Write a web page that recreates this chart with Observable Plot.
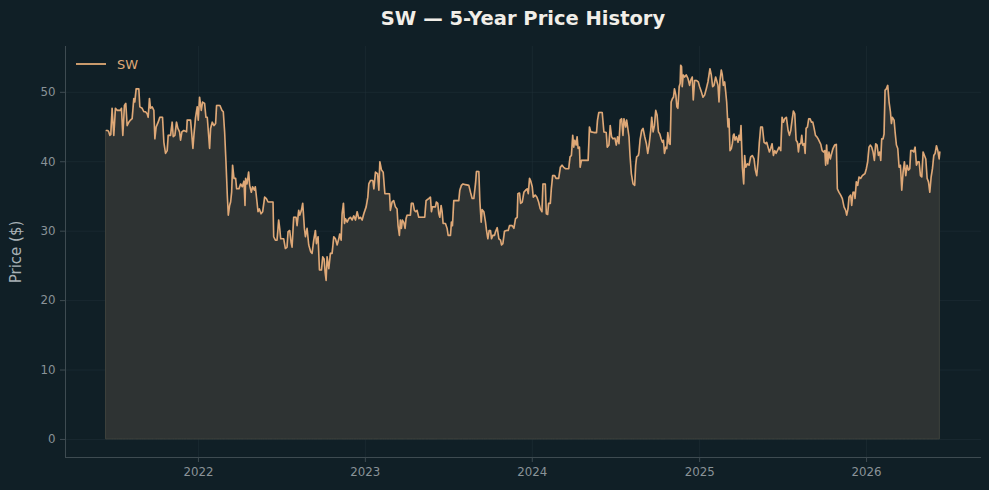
<!DOCTYPE html>
<html><head><meta charset="utf-8">
<script src="https://cdn.jsdelivr.net/npm/d3@7"></script>
<script src="https://cdn.jsdelivr.net/npm/@observablehq/plot@0.6"></script>
<style>
html,body{margin:0;padding:0;background:#101f26;}
#wrap{width:989px;height:490px;position:relative;overflow:hidden;font-family:"DejaVu Sans",sans-serif;background:#101f26;}
#title{position:absolute;left:65px;width:916px;top:0;height:38px;line-height:38px;text-align:center;color:#f1eee8;font-weight:bold;font-size:19.5px;}
#chart{position:absolute;top:38px;left:0;}
</style></head><body>
<div id="wrap"><div id="title">SW — 5-Year Price History</div><div id="chart"></div></div>
<script>
const seriesName = "SW";
const yTicks = [0, 10, 20, 30, 40, 50];
const xTickYears = [2022, 2023, 2024, 2025, 2026];

// [decimal year, price]
const p2021 = [[2021.449,44.5],[2021.457,44.5],[2021.463,44.3],[2021.469,43.8],[2021.475,43.9],[2021.483,47.7],[2021.493,43.8],[2021.503,47.7],[2021.513,47.4],[2021.523,47.4],[2021.533,47.4],[2021.539,47.7],[2021.547,43.8],[2021.557,48.1],[2021.565,48.4],[2021.573,45.2],[2021.583,45.7],[2021.593,46.0],[2021.603,46.2],[2021.613,49.1],[2021.619,48.6],[2021.627,50.5],[2021.643,50.5],[2021.649,47.9],[2021.663,47.7],[2021.673,47.2],[2021.683,47.2],[2021.693,46.9],[2021.699,46.4],[2021.707,49.1],[2021.713,47.7],[2021.723,47.9],[2021.733,47.4],[2021.739,43.3],[2021.747,45.0],[2021.759,45.7],[2021.769,46.4],[2021.785,46.4],[2021.793,42.8],[2021.803,41.2],[2021.813,41.6],[2021.819,43.8],[2021.833,43.8],[2021.843,45.7],[2021.849,43.6],[2021.859,43.8],[2021.869,45.7],[2021.877,44.8],[2021.887,44.3],[2021.893,43.1],[2021.901,44.3],[2021.913,44.5],[2021.929,44.3],[2021.933,46.0],[2021.953,46.0],[2021.959,44.3],[2021.967,41.9],[2021.973,43.8],[2021.983,46.4],[2021.993,47.9],[2021.999,46.0]];
const p2022 = [[2022.007,49.3],[2022.017,47.4],[2022.025,48.6],[2022.037,48.4],[2022.045,46.4],[2022.053,46.4],[2022.059,44.5],[2022.067,41.9],[2022.073,44.8],[2022.083,45.7],[2022.093,45.2],[2022.103,45.5],[2022.109,48.1],[2022.129,48.1],[2022.141,47.4],[2022.149,47.2],[2022.157,44.3],[2022.165,40.0],[2022.173,35.2],[2022.179,32.3],[2022.187,33.7],[2022.193,34.2],[2022.199,35.6],[2022.205,39.5],[2022.213,37.6],[2022.223,37.6],[2022.229,36.1],[2022.243,36.1],[2022.253,36.8],[2022.263,36.4],[2022.273,37.2],[2022.279,33.7],[2022.283,37.6],[2022.291,36.8],[2022.301,38.5],[2022.307,36.6],[2022.317,35.6],[2022.325,36.4],[2022.335,35.9],[2022.341,36.4],[2022.351,34.2],[2022.357,32.8],[2022.365,33.2],[2022.375,32.5],[2022.385,32.8],[2022.397,34.9],[2022.407,34.7],[2022.417,34.2],[2022.431,34.2],[2022.447,34.2],[2022.451,29.2],[2022.461,28.7],[2022.471,28.7],[2022.481,31.6],[2022.487,30.4],[2022.493,28.9],[2022.511,28.9],[2022.521,27.5],[2022.531,27.7],[2022.537,29.9],[2022.547,30.1],[2022.555,28.4],[2022.561,27.7],[2022.571,32.0],[2022.585,32.0],[2022.591,30.8],[2022.601,33.0],[2022.607,32.3],[2022.617,33.0],[2022.625,34.0],[2022.635,30.4],[2022.641,29.2],[2022.651,30.4],[2022.661,28.0],[2022.673,27.0],[2022.681,26.8],[2022.691,28.7],[2022.701,30.1],[2022.707,28.2],[2022.717,29.2],[2022.725,24.4],[2022.737,24.4],[2022.745,26.3],[2022.753,26.0],[2022.759,24.1],[2022.765,22.9],[2022.771,26.3],[2022.781,24.6],[2022.791,26.8],[2022.801,26.8],[2022.811,29.2],[2022.821,28.9],[2022.831,28.0],[2022.841,28.9],[2022.847,29.6],[2022.855,28.7],[2022.861,32.5],[2022.869,34.0],[2022.875,31.1],[2022.881,31.8],[2022.891,31.3],[2022.901,31.8],[2022.911,32.0],[2022.921,31.6],[2022.931,32.2],[2022.941,31.6],[2022.951,32.8],[2022.961,31.8],[2022.971,32.0],[2022.981,31.6],[2022.991,32.5]];
const p2023 = [[2023.005,33.5],[2023.015,34.9],[2023.021,36.8],[2023.031,37.3],[2023.045,37.3],[2023.051,36.1],[2023.061,38.5],[2023.073,38.3],[2023.081,35.9],[2023.087,40.0],[2023.097,38.8],[2023.107,38.5],[2023.117,35.4],[2023.131,35.4],[2023.145,35.4],[2023.150,33.0],[2023.160,34.2],[2023.170,34.4],[2023.180,33.5],[2023.190,33.2],[2023.196,30.8],[2023.204,29.4],[2023.210,31.6],[2023.216,30.4],[2023.222,31.6],[2023.230,31.3],[2023.238,30.4],[2023.244,31.8],[2023.250,32.3],[2023.270,32.3],[2023.276,34.0],[2023.286,34.0],[2023.294,33.0],[2023.302,32.8],[2023.310,33.0],[2023.320,32.0],[2023.340,32.0],[2023.356,32.0],[2023.364,34.4],[2023.380,34.7],[2023.390,34.9],[2023.396,32.8],[2023.402,33.5],[2023.420,33.5],[2023.426,34.2],[2023.434,34.0],[2023.440,32.5],[2023.446,32.0],[2023.454,33.7],[2023.460,32.8],[2023.466,31.1],[2023.480,31.1],[2023.490,30.4],[2023.496,29.4],[2023.510,29.4],[2023.516,31.3],[2023.522,30.8],[2023.530,34.4],[2023.560,34.4],[2023.566,35.9],[2023.576,36.6],[2023.584,36.8],[2023.600,36.7],[2023.620,36.6],[2023.630,35.6],[2023.640,34.7],[2023.650,34.7],[2023.660,36.8],[2023.666,38.6],[2023.680,38.6],[2023.686,34.4],[2023.694,31.3],[2023.700,33.1],[2023.710,32.8],[2023.720,31.3],[2023.726,30.1],[2023.734,28.9],[2023.742,30.1],[2023.750,30.1],[2023.756,28.9],[2023.764,29.4],[2023.774,29.4],[2023.780,29.9],[2023.790,30.5],[2023.800,28.9],[2023.810,28.7],[2023.816,28.0],[2023.824,28.2],[2023.834,30.0],[2023.846,30.1],[2023.856,30.1],[2023.864,30.8],[2023.880,30.8],[2023.890,30.4],[2023.900,31.8],[2023.910,32.0],[2023.914,35.4],[2023.924,35.5],[2023.930,34.0],[2023.940,34.2],[2023.950,35.6],[2023.960,35.9],[2023.970,36.1],[2023.976,35.4],[2023.984,37.6],[2023.990,37.3]];
const p2024 = [[2024.000,36.4],[2024.006,34.9],[2024.018,35.2],[2024.028,34.9],[2024.038,34.2],[2024.048,33.2],[2024.058,32.8],[2024.064,36.8],[2024.078,36.8],[2024.084,32.5],[2024.092,32.4],[2024.098,34.0],[2024.108,34.0],[2024.114,36.1],[2024.122,38.0],[2024.134,38.0],[2024.142,37.6],[2024.158,37.6],[2024.168,39.2],[2024.178,39.5],[2024.188,39.2],[2024.198,39.0],[2024.218,39.0],[2024.226,40.7],[2024.234,40.9],[2024.242,43.8],[2024.248,42.1],[2024.254,43.1],[2024.262,42.4],[2024.268,43.6],[2024.274,41.9],[2024.282,42.1],[2024.286,39.2],[2024.294,40.2],[2024.314,40.2],[2024.334,40.2],[2024.342,45.0],[2024.350,44.3],[2024.368,44.2],[2024.384,44.2],[2024.390,46.0],[2024.398,47.1],[2024.418,47.1],[2024.428,44.3],[2024.442,44.2],[2024.448,42.1],[2024.458,42.4],[2024.466,45.2],[2024.474,43.6],[2024.482,43.3],[2024.494,43.4],[2024.502,42.4],[2024.510,43.6],[2024.518,42.6],[2024.526,46.0],[2024.534,46.2],[2024.542,43.8],[2024.548,46.2],[2024.558,45.0],[2024.564,46.0],[2024.570,45.0],[2024.578,43.6],[2024.584,40.9],[2024.592,38.3],[2024.602,36.8],[2024.612,36.6],[2024.618,39.5],[2024.624,40.7],[2024.634,40.9],[2024.638,41.4],[2024.644,43.1],[2024.654,44.5],[2024.662,44.8],[2024.672,43.6],[2024.682,42.6],[2024.690,41.2],[2024.698,42.4],[2024.708,44.5],[2024.714,46.4],[2024.722,44.3],[2024.730,45.2],[2024.738,47.4],[2024.746,46.7],[2024.754,44.3],[2024.762,44.0],[2024.770,43.3],[2024.778,42.8],[2024.784,43.1],[2024.790,41.2],[2024.798,42.1],[2024.804,41.9],[2024.810,44.2],[2024.818,42.6],[2024.824,42.5],[2024.830,48.6],[2024.838,49.1],[2024.844,49.3],[2024.850,50.5],[2024.858,49.6],[2024.864,47.9],[2024.870,47.7],[2024.878,50.8],[2024.884,51.3],[2024.887,53.9],[2024.892,53.7],[2024.896,50.8],[2024.902,52.5],[2024.910,52.2],[2024.920,52.5],[2024.930,52.0],[2024.940,51.0],[2024.946,51.7],[2024.956,52.2],[2024.962,48.9],[2024.970,51.7],[2024.982,51.7],[2024.992,51.5]];
const p2025 = [[2025.000,50.8],[2025.010,50.1],[2025.020,49.3],[2025.030,49.6],[2025.040,50.5],[2025.050,51.5],[2025.062,53.4],[2025.070,52.5],[2025.078,50.8],[2025.086,51.0],[2025.096,52.2],[2025.102,51.7],[2025.110,51.0],[2025.116,48.6],[2025.122,51.7],[2025.130,53.2],[2025.136,52.5],[2025.142,51.0],[2025.150,51.5],[2025.156,50.1],[2025.162,48.6],[2025.170,45.0],[2025.176,46.2],[2025.182,41.6],[2025.190,41.9],[2025.196,42.6],[2025.202,43.8],[2025.206,44.0],[2025.212,43.1],[2025.220,43.6],[2025.230,42.8],[2025.236,43.8],[2025.242,43.1],[2025.248,45.2],[2025.256,39.2],[2025.264,36.8],[2025.270,40.9],[2025.276,39.2],[2025.286,39.7],[2025.296,39.5],[2025.306,40.7],[2025.316,40.9],[2025.326,40.4],[2025.334,38.8],[2025.342,38.0],[2025.350,40.0],[2025.358,42.8],[2025.366,45.0],[2025.376,45.0],[2025.386,42.8],[2025.396,42.6],[2025.402,42.8],[2025.410,42.1],[2025.418,41.4],[2025.426,41.9],[2025.434,42.6],[2025.442,40.9],[2025.450,41.6],[2025.458,41.2],[2025.466,41.6],[2025.476,42.1],[2025.486,41.6],[2025.494,46.4],[2025.502,45.7],[2025.510,46.2],[2025.520,46.4],[2025.530,44.5],[2025.538,43.8],[2025.546,44.5],[2025.554,46.0],[2025.562,47.3],[2025.570,46.9],[2025.578,43.1],[2025.586,42.8],[2025.592,41.4],[2025.598,42.6],[2025.606,42.6],[2025.612,43.8],[2025.618,42.4],[2025.626,42.6],[2025.632,41.2],[2025.638,44.8],[2025.646,45.0],[2025.654,46.2],[2025.662,46.2],[2025.670,45.7],[2025.678,45.7],[2025.686,44.8],[2025.694,43.8],[2025.702,43.6],[2025.710,43.3],[2025.720,42.8],[2025.726,42.5],[2025.734,41.6],[2025.742,41.4],[2025.750,41.6],[2025.755,39.5],[2025.761,42.4],[2025.767,39.7],[2025.775,41.4],[2025.783,40.4],[2025.791,41.2],[2025.799,41.9],[2025.809,42.4],[2025.819,42.5],[2025.825,36.1],[2025.835,35.6],[2025.845,35.2],[2025.855,34.7],[2025.865,33.5],[2025.875,33.0],[2025.881,32.3],[2025.889,33.2],[2025.895,34.9],[2025.905,35.2],[2025.911,33.7],[2025.919,35.6],[2025.927,35.6],[2025.931,34.7],[2025.939,37.1],[2025.947,36.6],[2025.955,37.8],[2025.965,37.6],[2025.975,38.0],[2025.991,38.3],[2025.999,39.0]];
const p2026 = [[2026.007,40.0],[2026.015,42.1],[2026.023,42.4],[2026.031,42.1],[2026.039,41.4],[2026.047,40.2],[2026.055,42.6],[2026.063,42.4],[2026.071,40.9],[2026.079,41.4],[2026.085,40.2],[2026.091,43.3],[2026.099,43.3],[2026.105,44.0],[2026.111,50.3],[2026.119,50.5],[2026.127,51.0],[2026.135,48.6],[2026.143,47.2],[2026.149,45.5],[2026.155,46.4],[2026.165,46.0],[2026.171,44.3],[2026.179,42.4],[2026.187,41.9],[2026.195,39.2],[2026.203,39.5],[2026.211,35.9],[2026.219,38.5],[2026.227,40.0],[2026.235,38.0],[2026.243,39.5],[2026.251,38.8],[2026.259,39.0],[2026.265,41.6],[2026.275,41.6],[2026.283,41.4],[2026.291,42.1],[2026.299,39.5],[2026.307,40.0],[2026.315,40.0],[2026.323,38.0],[2026.331,37.8],[2026.339,41.4],[2026.347,40.9],[2026.355,40.4],[2026.363,37.6],[2026.371,37.1],[2026.379,35.6],[2026.387,37.8],[2026.395,39.0],[2026.403,40.9],[2026.411,41.2],[2026.419,42.3],[2026.427,41.6],[2026.435,40.4],[2026.439,41.4]];

const toDate = y => {
  const yr = Math.floor(y);
  const a = Date.UTC(yr, 0, 1), b = Date.UTC(yr + 1, 0, 1);
  return new Date(a + (y - yr) * (b - a));
};
const data = [...p2021, ...p2022, ...p2023, ...p2024, ...p2025, ...p2026]
  .map(([t, p]) => ({date: toDate(t), price: p}));

const xDomain = [toDate(2021.2036), toDate(2026.6886)];
const yDomain = [-2.6, 56.6];
const xTicks = xTickYears.map(y => new Date(Date.UTC(y, 0, 1)));

const lineColor = "#dfa877";
const axisColor = "#3e4b51";
const tickText = "#8a9398";

const chart = Plot.plot({
  width: 989,
  height: 452,
  marginTop: 8,
  marginBottom: 33,
  marginLeft: 65,
  marginRight: 8,
  style: {background: "#101f26", color: tickText, fontFamily: "DejaVu Sans", fontSize: "11.8px", overflow: "visible"},
  x: {type: "utc", domain: xDomain, label: null},
  y: {domain: yDomain, label: null},
  marks: [
    Plot.gridY(yTicks, {stroke: "#22323a", strokeOpacity: 0.5}),
    Plot.gridX(xTicks, {stroke: "#22323a", strokeOpacity: 0.5}),
    Plot.areaY(data, {x: "date", y: "price", fill: "#2e3333", stroke: "#3f433d", strokeWidth: 1}),
    Plot.lineY(data, {x: "date", y: "price", stroke: lineColor, strokeWidth: 1.6}),
    Plot.ruleX([xDomain[0]], {stroke: axisColor, strokeWidth: 1}),
    Plot.ruleY([yDomain[0]], {stroke: axisColor, strokeWidth: 1}),
    Plot.axisY(yTicks, {tickSize: 5, tickPadding: 5, label: null, stroke: axisColor, fill: tickText}),
    Plot.axisX(xTicks, {tickSize: 5, tickPadding: 5, label: null, stroke: axisColor, fill: tickText, tickFormat: d3.utcFormat("%Y")})
  ]
});
document.getElementById("chart").appendChild(chart);

const svg = d3.select(chart);
svg.append("text")
  .attr("transform", "translate(16,214) rotate(-90)")
  .attr("text-anchor", "middle")
  .attr("dominant-baseline", "central")
  .attr("fill", "#a8b1b6")
  .style("font-size", "15px")
  .style("font-family", "DejaVu Sans")
  .text("Price ($)");
const lg = svg.append("g");
lg.append("line").attr("x1", 76).attr("x2", 106).attr("y1", 26).attr("y2", 26)
  .attr("stroke", "#c99a6c").attr("stroke-width", 2);
lg.append("text").attr("x", 117).attr("y", 26).attr("dominant-baseline", "central")
  .attr("text-anchor", "start")
  .attr("fill", lineColor)
  .style("font-size", "13px")
  .style("font-family", "DejaVu Sans")
  .text(seriesName);
</script>
</body></html>
